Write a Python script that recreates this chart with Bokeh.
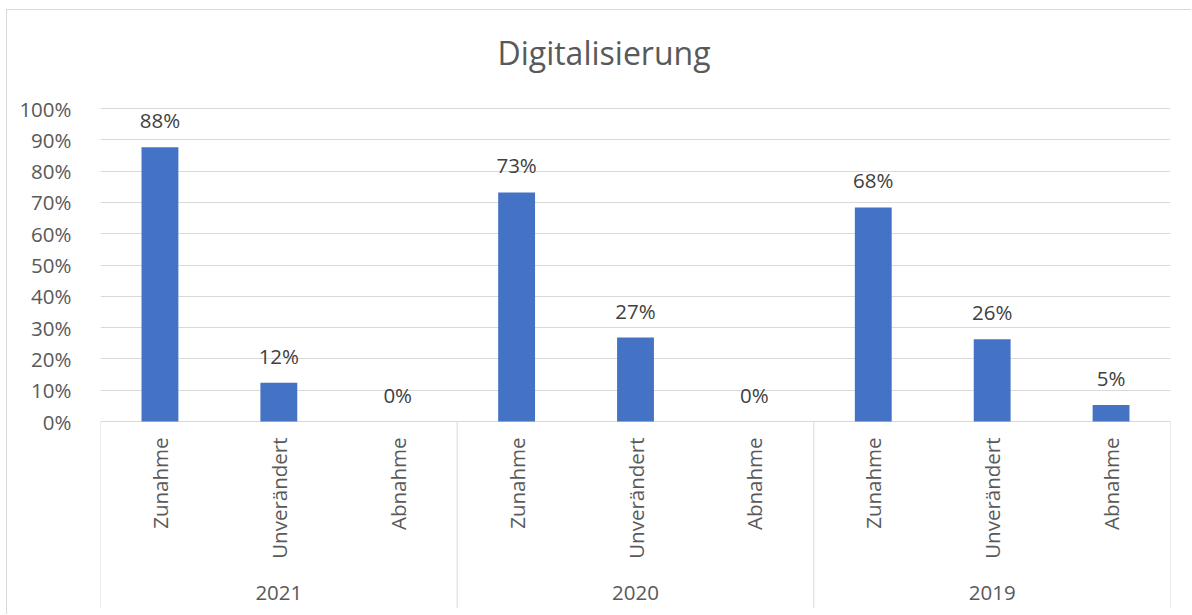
import math
from bokeh.plotting import figure
from bokeh.models import (FactorRange, ColumnDataSource, FixedTicker,
                          NumeralTickFormatter, Range1d)
from bokeh.embed import file_html
from bokeh.resources import INLINE
from bokeh.core.properties import value

# ---------------- data ----------------
title_text = "Digitalisierung"
years = ["2021", "2020", "2019"]
changes = ["Zunahme", "Unverändert", "Abnahme"]
share_2021 = [0.876, 0.124, 0.0]
share_2020 = [0.732, 0.268, 0.0]
share_2019 = [0.684, 0.263, 0.053]
y_ticks = [0.0, 0.1, 0.2, 0.3, 0.4, 0.5, 0.6, 0.7, 0.8, 0.9, 1.0]

# ---------------- layout constants (pixels, canvas coordinates) ----------------
W, H = 1185, 605
FRAME_L, FRAME_R, FRAME_T, FRAME_B = 93, 1163, 0, 598
Y100_PX, Y0_PX = 98, 411
PX = Y0_PX - Y100_PX
UNIT_PX = (FRAME_R - FRAME_L) / 9.0
TITLE_CX, TITLE_BASE = 596.5, 42
LABEL_GAP = 27

y_end = 1 + (Y100_PX - FRAME_T) / PX
y_start = -(FRAME_B - Y0_PX) / PX

FONT = "Open Sans"
FS = "20.5px"
AXIS_TXT = "#595959"
LABEL_TXT = "#404040"
GRID = "#d9d9d9"
BAR = "#4472C4"

factors = [(yr, ch) for yr in years for ch in changes]
shares = share_2021 + share_2020 + share_2019

x_range = FactorRange(*factors, factor_padding=0, subgroup_padding=0,
                      group_padding=0, range_padding=0)

p = figure(x_range=x_range, y_range=Range1d(y_start, y_end),
           width=W, height=H, output_backend="svg", toolbar_location=None,
           x_axis_location=None,
           min_border_left=FRAME_L, min_border_right=W - FRAME_R,
           min_border_top=FRAME_T, min_border_bottom=H - FRAME_B,
           outline_line_color=None, background_fill_color="white",
           border_fill_color="white")
p.styles = {"margin-left": "6px", "margin-top": "9px",
            "border-top": "1px solid #d9d9d9", "border-left": "1px solid #d9d9d9"}

# y axis & grid
ticker = FixedTicker(ticks=y_ticks)
p.yaxis.ticker = ticker
p.yaxis.formatter = NumeralTickFormatter(format="0%")
p.yaxis.axis_line_color = None
p.yaxis.major_tick_line_color = None
p.yaxis.minor_tick_line_color = None
p.yaxis.major_label_standoff = 23
p.yaxis.major_label_text_font = FONT
p.yaxis.major_label_text_font_size = FS
p.yaxis.major_label_text_color = AXIS_TXT
p.ygrid.ticker = ticker
p.ygrid.grid_line_color = GRID
p.ygrid.grid_line_width = 1
p.xgrid.grid_line_color = None

# chart title (centred over the whole chart area)
mid = (years[1], changes[1], (TITLE_CX - (FRAME_L + FRAME_R) / 2) / UNIT_PX)
ttl = ColumnDataSource(dict(x=[mid], y=[1 + (Y100_PX - TITLE_BASE) / PX], text=[title_text]))
p.text(x="x", y="y", text="text", source=ttl, text_align="center",
       text_baseline="alphabetic", text_font=value(FONT),
       text_font_size="32px", text_color=AXIS_TXT)

# bars
src = ColumnDataSource(dict(
    x=factors,
    top=shares,
    label=["{:.0f}%".format(v * 100) for v in shares],
    label_y=[v + LABEL_GAP / PX for v in shares],
    sub=[f[1] for f in factors],
))
p.vbar(x="x", top="top", width=0.31, source=src, fill_color=BAR, line_color=None)

# data labels
p.text(x="x", y="label_y", text="label", source=src, text_align="center",
       text_baseline="alphabetic", text_font=value(FONT),
       text_font_size=FS, text_color=LABEL_TXT)

# category labels (vertical)
p.text(x="x", y=-16 / PX, text="sub", source=src, angle=math.pi / 2,
       text_align="right", text_baseline="middle", text_font=value(FONT),
       text_font_size=FS, text_color=AXIS_TXT)

# group labels
grp = ColumnDataSource(dict(x=[(yr, changes[1]) for yr in years], text=years))
p.text(x="x", y=-171 / PX, text="text", source=grp, text_align="center",
       text_baseline="middle", text_font=value(FONT),
       text_font_size=FS, text_color=AXIS_TXT)

# group separators
sep_x = [(years[0], changes[0], -0.5)] + [(yr, changes[-1], 0.5) for yr in years]
sep = ColumnDataSource(dict(x=sep_x, y0=[0.0] * len(sep_x), y1=[y_start] * len(sep_x)))
p.segment(x0="x", y0="y0", x1="x", y1="y1", source=sep, line_color=GRID, line_width=1)

open("out.html", "w").write(file_html(p, INLINE))
